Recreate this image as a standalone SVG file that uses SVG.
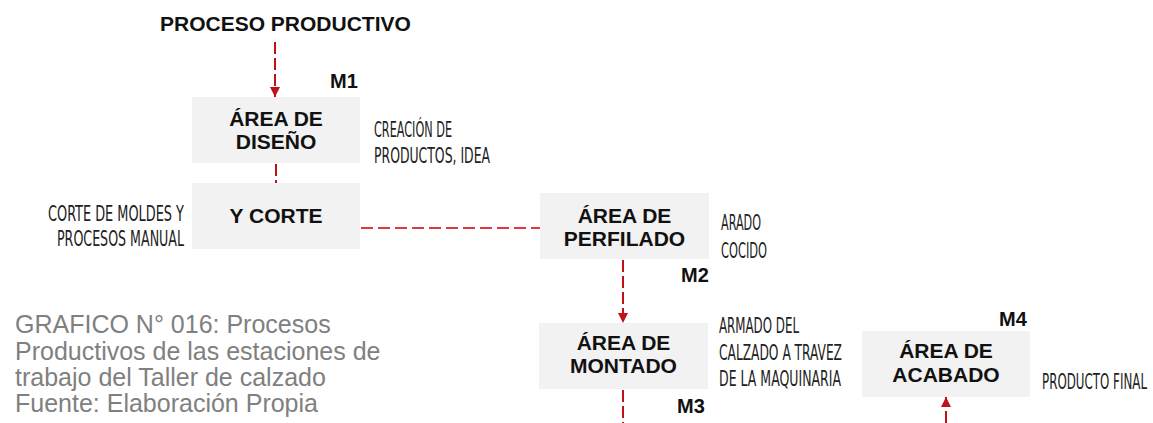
<svg xmlns="http://www.w3.org/2000/svg" width="1153" height="423" viewBox="0 0 1153 423">
<style>
.box{fill:#f2f2f2}
.bt{font-family:"Liberation Sans",Arial,sans-serif;font-weight:bold;font-size:21px;fill:#111;text-anchor:middle}
.m{font-family:"Liberation Sans",Arial,sans-serif;font-weight:bold;font-size:20px;fill:#111}
.c{font-family:"Liberation Sans Narrow","DejaVu Sans Condensed","Liberation Sans",sans-serif;font-size:22px;fill:#222}
.cap{font-family:"Liberation Sans",Arial,sans-serif;font-size:25px;fill:#808080}
.dk{stroke:#c0101a;stroke-width:2;stroke-dasharray:12 4;fill:none}
.br{stroke:#dc3a40;stroke-width:2;stroke-dasharray:12 5;fill:none}
</style>
<defs>
<marker id="ah" viewBox="0 0 10 10" refX="10" refY="5" markerWidth="10" markerHeight="10" markerUnits="userSpaceOnUse" orient="auto">
<path d="M0,0 L10,5 L0,10 Z" fill="#c0101a"/>
</marker>
</defs>
<text x="160" y="31" style="font-family:'Liberation Sans',Arial,sans-serif;font-weight:bold;font-size:21px;fill:#111">PROCESO PRODUCTIVO</text>
<g id="connectors">
<line class="dk" x1="275" y1="42" x2="275" y2="97" marker-end="url(#ah)"/>
<line class="dk" x1="276" y1="164" x2="276" y2="183"/>
<line class="br" x1="361" y1="228" x2="540" y2="228"/>
<line class="dk" x1="623" y1="260" x2="623" y2="323" marker-end="url(#ah)"/>
<line class="dk" x1="623" y1="390" x2="623" y2="423"/>
<line class="dk" x1="946" y1="423" x2="946" y2="397" stroke-dasharray="none" marker-end="url(#ah)"/>
</g>
<g id="diseno">
<rect class="box" x="192" y="97" width="168" height="66"/>
<text class="bt" x="276" y="126">ÁREA DE</text>
<text class="bt" x="276" y="149">DISEÑO</text>
<text class="m" x="330" y="88">M1</text>
<text class="c" x="374" y="137" textLength="78" lengthAdjust="spacingAndGlyphs">CREACIÓN DE</text>
<text class="c" x="374" y="163" textLength="116" lengthAdjust="spacingAndGlyphs">PRODUCTOS, IDEA</text>
</g>
<g id="corte">
<rect class="box" x="192" y="183" width="168" height="66"/>
<text class="bt" x="276" y="223">Y CORTE</text>
<text class="c" x="48" y="221" textLength="136" lengthAdjust="spacingAndGlyphs">CORTE DE MOLDES Y</text>
<text class="c" x="57" y="246" textLength="127" lengthAdjust="spacingAndGlyphs">PROCESOS MANUAL</text>
</g>
<g id="perfilado">
<rect class="box" x="540" y="193" width="169" height="66"/>
<text class="bt" x="624.5" y="223">ÁREA DE</text>
<text class="bt" x="624.5" y="246">PERFILADO</text>
<text class="m" x="681" y="282">M2</text>
<text class="c" x="721" y="230" textLength="40" lengthAdjust="spacingAndGlyphs">ARADO</text>
<text class="c" x="721" y="258" textLength="46" lengthAdjust="spacingAndGlyphs">COCIDO</text>
</g>
<g id="montado">
<rect class="box" x="539" y="323" width="169" height="66"/>
<text class="bt" x="623.5" y="350">ÁREA DE</text>
<text class="bt" x="623.5" y="373">MONTADO</text>
<text class="m" x="677" y="413">M3</text>
<text class="c" x="719" y="333" textLength="80" lengthAdjust="spacingAndGlyphs">ARMADO DEL</text>
<text class="c" x="719" y="360" textLength="123" lengthAdjust="spacingAndGlyphs">CALZADO A TRAVEZ</text>
<text class="c" x="719" y="386" textLength="122" lengthAdjust="spacingAndGlyphs">DE LA MAQUINARIA</text>
</g>
<g id="acabado">
<rect class="box" x="862" y="331" width="168" height="66"/>
<text class="bt" x="946" y="358">ÁREA DE</text>
<text class="bt" x="946" y="382">ACABADO</text>
<text class="m" x="999" y="326">M4</text>
<text class="c" x="1042" y="389" textLength="105" lengthAdjust="spacingAndGlyphs">PRODUCTO FINAL</text>
</g>
<g id="caption">
<text class="cap" x="15" y="333">GRAFICO N° 016: Procesos</text>
<text class="cap" x="15" y="360">Productivos de las estaciones de</text>
<text class="cap" x="15" y="386">trabajo del Taller de calzado</text>
<text class="cap" x="15" y="412">Fuente: Elaboración Propia</text>
</g>
</svg>
